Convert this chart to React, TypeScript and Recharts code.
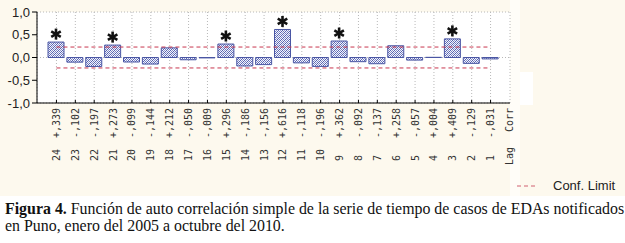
import React from 'react';
import {
  ComposedChart,
  Bar,
  Line,
  XAxis,
  YAxis,
  CartesianGrid,
  LabelList,
  Legend,
} from 'recharts';

// ---- data ----
const lags: string[] = ['24','23','22','21','20','19','18','17','16','15','14','13','12','11','10','9','8','7','6','5','4','3','2','1'];
const corr: number[] = [0.339,-0.102,-0.197,0.273,-0.099,-0.144,0.212,-0.050,-0.009,0.296,-0.186,-0.156,0.616,-0.118,-0.196,0.362,-0.092,-0.137,0.258,-0.057,0.004,0.409,-0.129,-0.031];
const significantLags: string[] = ['24','21','15','12','9','3'];
const CONF_LIMIT = 0.23;
const yTicks: number[] = [-1, -0.5, 0, 0.5, 1];

const data = lags.map((lag, i) => ({
  lag,
  corr: corr[i],
  upper: CONF_LIMIT,
  lower: -CONF_LIMIT,
}));

const fmtCorr = (v: number) => (v >= 0 ? '+' : '-') + ',' + Math.abs(v).toFixed(3).slice(2);
const fmtY = (v: number) => v.toFixed(1).replace('.', ',');

const MONO = '"DejaVu Sans Mono", "Liberation Mono", monospace';
const SANS = '"Liberation Sans", Arial, sans-serif';

const BottomTick = (props: any) => {
  const { x, y, payload, index } = props;
  const i = index as number;
  const v = corr[i];
  const isLast = i === lags.length - 1;
  const colStep = 19;
  return (
    <g>
      <line x1={x} x2={x} y1={y} y2={y - 3} stroke="#000" />
      <text
        transform={`translate(${x},${y + 5}) rotate(-90)`}
        textAnchor="end"
        dy="0.35em"
        fontFamily={MONO}
        fontSize={10}
        fill="#333"
      >
        {fmtCorr(v)}
      </text>
      <text
        transform={`translate(${x},${y + 58}) rotate(-90)`}
        textAnchor="start"
        dy="0.35em"
        fontFamily={MONO}
        fontSize={10}
        fill="#333"
      >
        {payload.value}
      </text>
      {isLast && (
        <g>
          <text
            transform={`translate(${x + colStep},${y + 5}) rotate(-90)`}
            textAnchor="end"
            dy="0.35em"
            fontFamily={MONO}
            fontSize={10}
            fill="#333"
          >
            Corr
          </text>
          <text
            transform={`translate(${x + colStep},${y + 62}) rotate(-90)`}
            textAnchor="start"
            dy="0.35em"
            fontFamily={MONO}
            fontSize={10}
            fill="#333"
          >
            Lag
          </text>
        </g>
      )}
    </g>
  );
};

const Asterisk = (props: any) => {
  const { x, y, width, index } = props;
  if (!significantLags.includes(lags[index])) return null;
  const cx = Number(x) + Number(width) / 2;
  const cy = Number(y) - 8;
  const r = 5.5;
  const pts = [0, 60, 120].map((a) => {
    const rad = (a * Math.PI) / 180 + Math.PI / 2;
    return { dx: Math.cos(rad) * r, dy: Math.sin(rad) * r };
  });
  return (
    <g>
      {pts.map((p, k) => (
        <line
          key={k}
          x1={cx - p.dx}
          y1={cy - p.dy}
          x2={cx + p.dx}
          y2={cy + p.dy}
          stroke="#111"
          strokeWidth={2.6}
        />
      ))}
    </g>
  );
};

const LegendContent = () => (
  <div style={{ display: 'flex', alignItems: 'center', fontFamily: SANS, fontSize: 13, color: '#222' }}>
    <svg width={22} height={8} style={{ marginRight: 14 }}>
      <line x1={0} x2={18} y1={4} y2={4} stroke="#d06070" strokeDasharray="4 3" />
    </svg>
    <span>Conf. Limit</span>
  </div>
);

export default function App() {
  return (
    <div style={{ position: 'absolute', left: 0, top: 0, width: 625, height: 243, background: '#ffffff', overflow: 'hidden' }}>
      <svg width={0} height={0} style={{ position: 'absolute' }}>
        <defs>
          <pattern id="dots" width="4" height="4" patternUnits="userSpaceOnUse">
            <rect width="4" height="4" fill="#f4f5fc" />
            <rect x="0" y="0" width="1" height="1" fill="#5562b0" />
            <rect x="2" y="0" width="1" height="1" fill="#8f97cc" />
            <rect x="1" y="1" width="1" height="1" fill="#7480c0" />
            <rect x="3" y="1" width="1" height="1" fill="#5562b0" />
            <rect x="0" y="2" width="1" height="1" fill="#8f97cc" />
            <rect x="2" y="2" width="1" height="1" fill="#5562b0" />
            <rect x="1" y="3" width="1" height="1" fill="#5562b0" />
            <rect x="3" y="3" width="1" height="1" fill="#7480c0" />
          </pattern>
        </defs>
      </svg>
      <div style={{ position: 'absolute', left: 0, top: 0, width: 625, height: 196, background: '#fdf9ee' }} />
      <div style={{ position: 'absolute', left: 510, top: 0, width: 10, height: 196, background: '#fffdf8' }} />
      <div style={{ position: 'absolute', left: 520, top: 72, width: 13, height: 33, background: '#ffffff' }} />
      <div style={{ position: 'absolute', left: 0, top: 0 }}>
        <ComposedChart
          width={625}
          height={190}
          data={data}
          margin={{ top: 12, right: 115, bottom: 0, left: 7 }}
        >
          <CartesianGrid stroke="#b8b8b8" strokeDasharray="1 2" fill="#ffffff" />
          <XAxis
            dataKey="lag"
            type="category"
            height={87}
            interval={0}
            padding={{ left: 10, right: 10 }}
            axisLine={{ stroke: '#000' }}
            tickLine={false}
            tickSize={0}
            tickMargin={0}
            tick={(p: any) => <BottomTick {...p} />}
          />
          <XAxis
            xAxisId="top"
            dataKey="lag"
            type="category"
            orientation="top"
            height={0}
            interval={0}
            padding={{ left: 10, right: 10 }}
            axisLine={{ stroke: '#000' }}
            tickLine={{ stroke: '#000' }}
            tickSize={3}
            mirror
            tick={false}
          />
          <YAxis
            type="number"
            domain={[-1, 1]}
            ticks={yTicks}
            width={30}
            tickFormatter={fmtY}
            axisLine={{ stroke: '#000' }}
            tickLine={{ stroke: '#000' }}
            tickSize={5}
            tickMargin={2}
            tick={{ fontFamily: SANS, fontSize: 13, fill: '#222' }}
          />
          <YAxis
            yAxisId="right"
            orientation="right"
            type="number"
            domain={[-1, 1]}
            ticks={yTicks}
            width={0}
            axisLine={{ stroke: '#000' }}
            tickLine={{ stroke: '#000' }}
            tickSize={4}
            mirror
            tick={false}
          />
          <Line
            dataKey="upper"
            name="Conf. Limit"
            stroke="#c8364e"
            strokeDasharray="4 3"
            strokeWidth={1}
            dot={false}
            activeDot={false}
            isAnimationActive={false}
          />
          <Line
            dataKey="lower"
            legendType="none"
            stroke="#c8364e"
            strokeDasharray="4 3"
            strokeWidth={1}
            dot={false}
            activeDot={false}
            isAnimationActive={false}
          />
          <Bar
            dataKey="corr"
            legendType="none"
            barSize={16}
            fill="url(#dots)"
            stroke="#4a56a4"
            strokeWidth={1}
            isAnimationActive={false}
          >
            <LabelList dataKey="corr" content={(p: any) => <Asterisk {...p} />} />
          </Bar>
          <Legend
            layout="horizontal"
            verticalAlign="middle"
            align="center"
            content={() => <LegendContent />}
            wrapperStyle={{ position: 'absolute', left: 517, top: 178, width: 108 }}
          />
        </ComposedChart>
      </div>
      <div
        style={{
          position: 'absolute',
          left: 5,
          top: 200,
          width: 620,
          fontFamily: '"Liberation Serif", "Times New Roman", serif',
          fontSize: 15.9,
          lineHeight: '17px',
          color: '#111',
          whiteSpace: 'nowrap',
        }}
      >
        <b>Figura 4.</b> Función de auto correlación simple de la serie de tiempo de casos de EDAs notificados
        <br />
        en Puno, enero del 2005 a octubre del 2010.
      </div>
    </div>
  );
}
